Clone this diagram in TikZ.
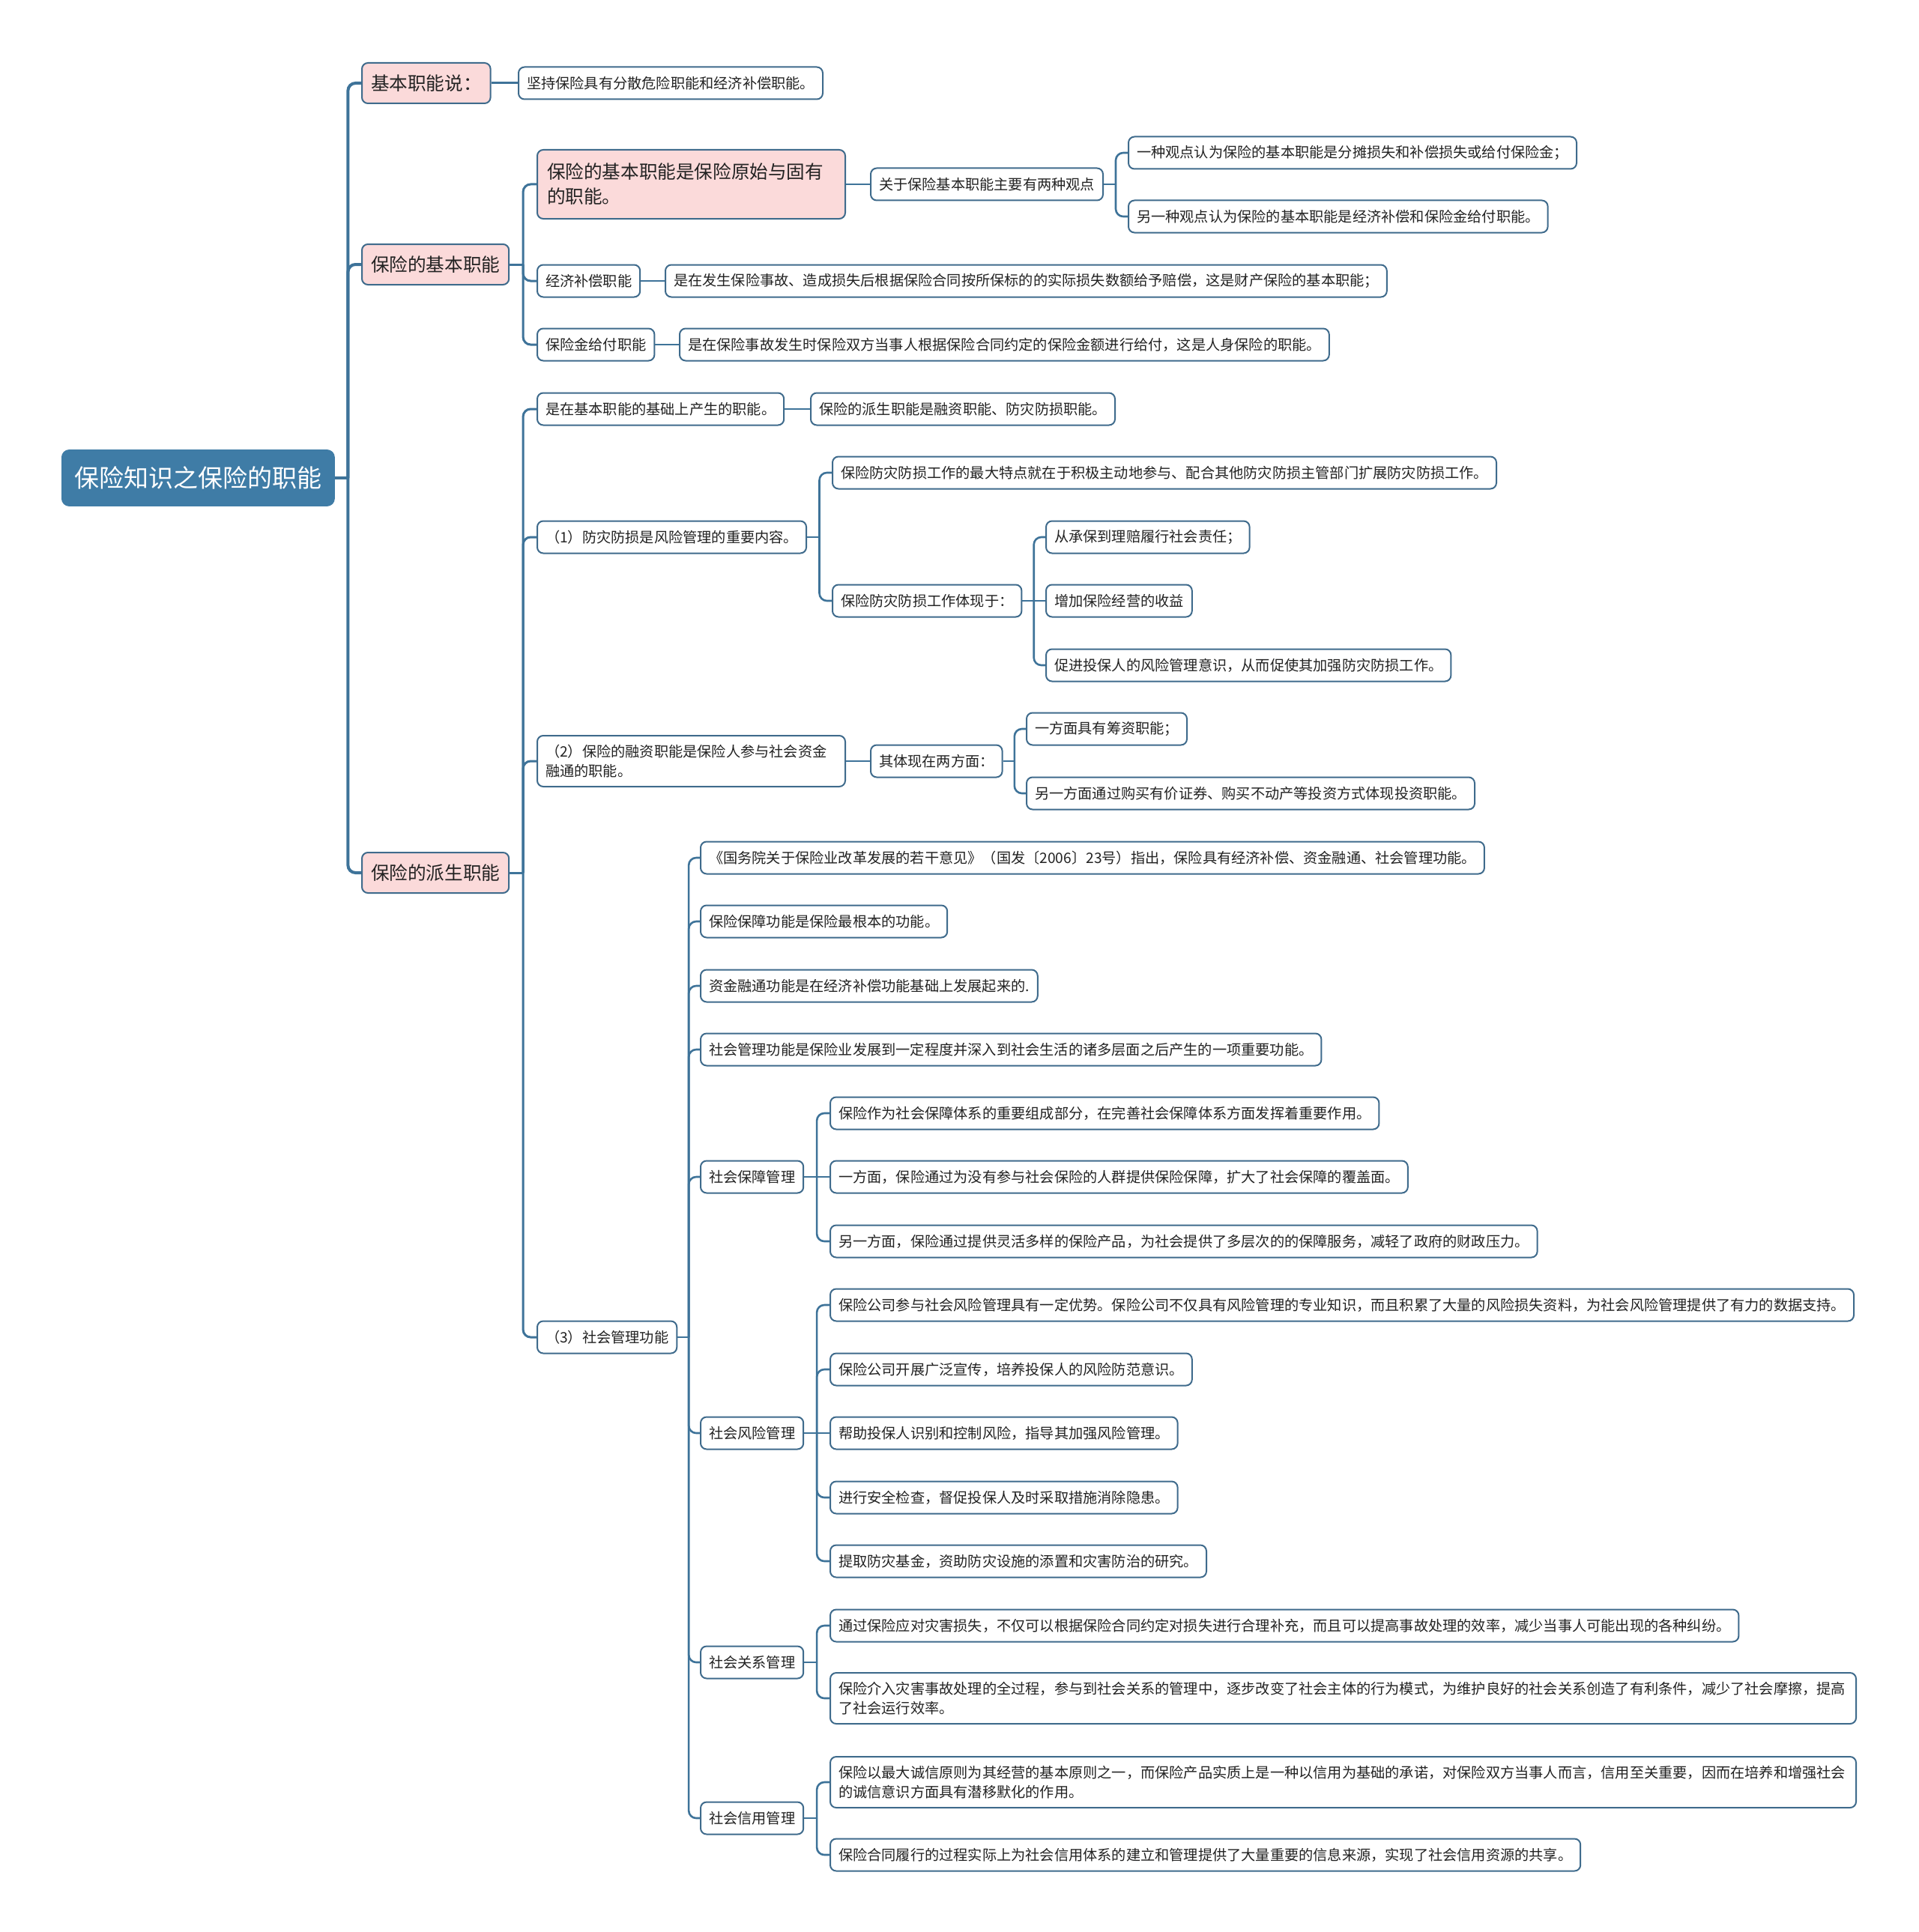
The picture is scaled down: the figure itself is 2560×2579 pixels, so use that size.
\documentclass[tikz,border=0pt]{standalone}
\usepackage{fontspec}
\newfontfamily\cjk{Noto Sans CJK SC}
\usetikzlibrary{calc}
\definecolor{rootc}{HTML}{3F7CA6}
\definecolor{pinkc}{HTML}{FBDADA}
\definecolor{bordc}{HTML}{3F6B8C}
\definecolor{linec}{HTML}{3E7399}
\definecolor{txtc}{HTML}{222222}
\tikzset{
  leafbox/.style={draw=bordc, line width=1pt, rounded corners=4pt, fill=white,
    font=\cjk\fontsize{9.6}{13}\selectfont, text=txtc, inner xsep=5.5pt, inner ysep=0pt,
    minimum height=21.5pt, anchor=west},
  lvone/.style={leafbox, fill=pinkc, font=\cjk\fontsize{12.3}{16.5}\selectfont,
    inner xsep=6pt, minimum height=27pt},
  rootbox/.style={fill=rootc, draw=rootc, text=white, rounded corners=5pt,
    font=\cjk\fontsize{16.5}{20}\selectfont, inner xsep=8.5pt, inner ysep=0pt,
    minimum height=37.5pt, anchor=west},
  trunk/.style={draw=linec, line width=2pt},
  twig/.style={draw=linec, line width=1.5pt},
  leafline/.style={draw=linec, line width=1.3pt},
}
% connector with an elbow: stub, then vertical and into the child
\newcommand{\branch}[3]{%
  \draw[#1] (#2.east) -- ($(#2.east)!0.5!(#2.east -| #3.west)$);
  \draw[#1, rounded corners=5pt] ($(#2.east)!0.5!(#2.east -| #3.west)$) |- (#3.west);
}
% straight connector for a child level with its parent
\newcommand{\straight}[3]{%
  \draw[#1] (#2.east) -- (#2.east -| #3.west);
}
\begin{document}
\begin{tikzpicture}[x=0.5pt, y=-0.5pt]
\useasboundingbox (0,0) rectangle (2560,2579);
\fill[white] (0,0) rectangle (2560,2579);

% root
\node[rootbox] (root) at (82,638) {保险知识之保险的职能};

% level 1
\node[lvone] (la) at (482,111) {基本职能说：};
\node[lvone] (lb) at (482,353) {保险的基本职能};
\node[lvone] (lc) at (482,1165) {保险的派生职能};

% under la
\node[leafbox] (a1) at (691,111) {坚持保险具有分散危险职能和经济补偿职能。};

% under lb
\node[lvone, text width=192.5pt, align=left, inner xsep=6.5pt, minimum height=46pt] (b1) at (716,246) {保险的基本职能是保险原始与固有\\的职能。};
\node[leafbox] (b1a) at (1161,246) {关于保险基本职能主要有两种观点};
\node[leafbox] (b1a1) at (1505,204) {一种观点认为保险的基本职能是分摊损失和补偿损失或给付保险金；};
\node[leafbox] (b1a2) at (1505,289) {另一种观点认为保险的基本职能是经济补偿和保险金给付职能。};
\node[leafbox] (b2) at (716,375) {经济补偿职能};
\node[leafbox] (b2a) at (887,375) {是在发生保险事故、造成损失后根据保险合同按所保标的的实际损失数额给予赔偿，这是财产保险的基本职能；};
\node[leafbox] (b3) at (716,460) {保险金给付职能};
\node[leafbox] (b3a) at (906,460) {是在保险事故发生时保险双方当事人根据保险合同约定的保险金额进行给付，这是人身保险的职能。};

% under lc
\node[leafbox] (c1) at (716,546) {是在基本职能的基础上产生的职能。};
\node[leafbox] (c1a) at (1081,546) {保险的派生职能是融资职能、防灾防损职能。};
\node[leafbox] (c2) at (716,717) {（1）防灾防损是风险管理的重要内容。};
\node[leafbox] (c2a) at (1110,631) {保险防灾防损工作的最大特点就在于积极主动地参与、配合其他防灾防损主管部门扩展防灾防损工作。};
\node[leafbox] (c2b) at (1110,802) {保险防灾防损工作体现于：};
\node[leafbox] (c2b1) at (1395,717) {从承保到理赔履行社会责任；};
\node[leafbox] (c2b2) at (1395,802) {增加保险经营的收益};
\node[leafbox] (c2b3) at (1395,888) {促进投保人的风险管理意识，从而促使其加强防灾防损工作。};
\node[leafbox, text width=194.5pt, align=left, minimum height=34pt] (c3) at (716,1016) {（2）保险的融资职能是保险人参与社会资金\\融通的职能。};
\node[leafbox] (c3a) at (1161,1016) {其体现在两方面：};
\node[leafbox] (c3a1) at (1369,973) {一方面具有筹资职能；};
\node[leafbox] (c3a2) at (1369,1059) {另一方面通过购买有价证券、购买不动产等投资方式体现投资职能。};
\node[leafbox] (c4) at (716,1785) {（3）社会管理功能};

% under c4
\node[leafbox] (d1) at (934,1145) {《国务院关于保险业改革发展的若干意见》（国发〔2006〕23号）指出，保险具有经济补偿、资金融通、社会管理功能。};
\node[leafbox] (d2) at (934,1230) {保险保障功能是保险最根本的功能。};
\node[leafbox] (d3) at (934,1316) {资金融通功能是在经济补偿功能基础上发展起来的.};
\node[leafbox] (d4) at (934,1401) {社会管理功能是保险业发展到一定程度并深入到社会生活的诸多层面之后产生的一项重要功能。};
\node[leafbox] (d5) at (934,1571) {社会保障管理};
\node[leafbox] (d6) at (934,1913) {社会风险管理};
\node[leafbox] (d7) at (934,2219) {社会关系管理};
\node[leafbox] (d8) at (934,2427) {社会信用管理};

\node[leafbox] (e1) at (1107,1486) {保险作为社会保障体系的重要组成部分，在完善社会保障体系方面发挥着重要作用。};
\node[leafbox] (e2) at (1107,1571) {一方面，保险通过为没有参与社会保险的人群提供保险保障，扩大了社会保障的覆盖面。};
\node[leafbox] (e3) at (1107,1657) {另一方面，保险通过提供灵活多样的保险产品，为社会提供了多层次的的保障服务，减轻了政府的财政压力。};

\node[leafbox] (f1) at (1107,1742) {保险公司参与社会风险管理具有一定优势。保险公司不仅具有风险管理的专业知识，而且积累了大量的风险损失资料，为社会风险管理提供了有力的数据支持。};
\node[leafbox] (f2) at (1107,1828) {保险公司开展广泛宣传，培养投保人的风险防范意识。};
\node[leafbox] (f3) at (1107,1913) {帮助投保人识别和控制风险，指导其加强风险管理。};
\node[leafbox] (f4) at (1107,1999) {进行安全检查，督促投保人及时采取措施消除隐患。};
\node[leafbox] (f5) at (1107,2084) {提取防灾基金，资助防灾设施的添置和灾害防治的研究。};

\node[leafbox] (g1) at (1107,2170) {通过保险应对灾害损失，不仅可以根据保险合同约定对损失进行合理补充，而且可以提高事故处理的效率，减少当事人可能出现的各种纠纷。};
\node[leafbox, text width=673.5pt, align=left, minimum height=34pt] (g2) at (1107,2267) {保险介入灾害事故处理的全过程，参与到社会关系的管理中，逐步改变了社会主体的行为模式，为维护良好的社会关系创造了有利条件，减少了社会摩擦，提高\\了社会运行效率。};

\node[leafbox, text width=673.5pt, align=left, minimum height=34pt] (h1) at (1107,2379) {保险以最大诚信原则为其经营的基本原则之一，而保险产品实质上是一种以信用为基础的承诺，对保险双方当事人而言，信用至关重要，因而在培养和增强社会\\的诚信意识方面具有潜移默化的作用。};
\node[leafbox] (h2) at (1107,2476) {保险合同履行的过程实际上为社会信用体系的建立和管理提供了大量重要的信息来源，实现了社会信用资源的共享。};

% connectors
\branch{trunk}{root}{la}
\branch{trunk}{root}{lb}
\branch{trunk}{root}{lc}

\straight{twig}{la}{a1}
\branch{twig}{lb}{b1}
\branch{twig}{lb}{b2}
\branch{twig}{lb}{b3}
\branch{twig}{lc}{c1}
\branch{twig}{lc}{c2}
\branch{twig}{lc}{c3}
\branch{twig}{lc}{c4}

\straight{leafline}{b1}{b1a}
\branch{leafline}{b1a}{b1a1}
\branch{leafline}{b1a}{b1a2}
\straight{leafline}{b2}{b2a}
\straight{leafline}{b3}{b3a}
\straight{leafline}{c1}{c1a}
\branch{leafline}{c2}{c2a}
\branch{leafline}{c2}{c2b}
\branch{leafline}{c2b}{c2b1}
\straight{leafline}{c2b}{c2b2}
\branch{leafline}{c2b}{c2b3}
\straight{leafline}{c3}{c3a}
\branch{leafline}{c3a}{c3a1}
\branch{leafline}{c3a}{c3a2}

\branch{leafline}{c4}{d1}
\branch{leafline}{c4}{d2}
\branch{leafline}{c4}{d3}
\branch{leafline}{c4}{d4}
\branch{leafline}{c4}{d5}
\branch{leafline}{c4}{d6}
\branch{leafline}{c4}{d7}
\branch{leafline}{c4}{d8}

\branch{leafline}{d5}{e1}
\straight{leafline}{d5}{e2}
\branch{leafline}{d5}{e3}
\branch{leafline}{d6}{f1}
\branch{leafline}{d6}{f2}
\straight{leafline}{d6}{f3}
\branch{leafline}{d6}{f4}
\branch{leafline}{d6}{f5}
\branch{leafline}{d7}{g1}
\branch{leafline}{d7}{g2}
\branch{leafline}{d8}{h1}
\branch{leafline}{d8}{h2}
\end{tikzpicture}
\end{document}
